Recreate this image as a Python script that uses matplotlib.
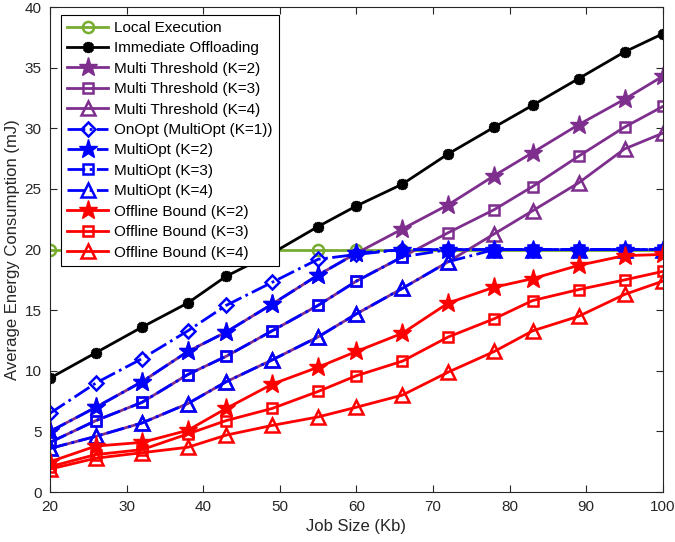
import numpy as np
import matplotlib.pyplot as plt

# job sizes (Kb)
job_size = [20, 26, 32, 38, 43, 49, 55, 60, 66, 72, 78, 83, 89, 95, 100]

local_exec = [20, 20, 20, 20, 20, 20, 20, 20, 20, 20, 20, 20, 20, 20, 20]
immediate = [9.4, 11.5, 13.6, 15.6, 17.8, 19.7, 21.9, 23.6, 25.4, 27.9, 30.1, 31.9, 34.1, 36.3, 37.8]

mt_k2 = [5.0, 7.0, 9.1, 11.6, 13.2, 15.5, 17.9, 19.7, 21.7, 23.7, 26.1, 28.0, 30.3, 32.4, 34.3]
mt_k3 = [4.1, 5.9, 7.4, 9.7, 11.2, 13.3, 15.4, 17.4, 19.4, 21.4, 23.3, 25.2, 27.7, 30.1, 31.8]
mt_k4 = [3.6, 4.6, 5.7, 7.3, 9.1, 10.9, 12.8, 14.7, 16.8, 19.0, 21.3, 23.2, 25.5, 28.3, 29.6]

onopt = [6.5, 9.0, 11.0, 13.3, 15.4, 17.3, 19.2, 19.6, 20, 20, 20, 20, 20, 20, 20]
mo_k2 = [5.0, 7.0, 9.1, 11.6, 13.2, 15.5, 17.9, 19.7, 20, 20, 20, 20, 20, 20, 20]
mo_k3 = [4.1, 5.9, 7.4, 9.7, 11.2, 13.3, 15.4, 17.4, 19.4, 20, 20, 20, 20, 20, 20]
mo_k4 = [3.6, 4.6, 5.7, 7.3, 9.1, 10.9, 12.8, 14.7, 16.8, 19.0, 20, 20, 20, 20, 20]

ob_k2 = [2.5, 3.8, 4.1, 5.1, 6.9, 8.9, 10.3, 11.6, 13.1, 15.6, 16.9, 17.6, 18.7, 19.5, 19.6]
ob_k3 = [2.1, 3.1, 3.5, 4.8, 5.9, 6.9, 8.3, 9.6, 10.8, 12.8, 14.3, 15.8, 16.7, 17.5, 18.2]
ob_k4 = [1.9, 2.8, 3.25, 3.7, 4.7, 5.5, 6.2, 7.0, 8.0, 9.9, 11.6, 13.3, 14.5, 16.3, 17.4]

plt.rcParams['font.family'] = ['Liberation Sans', 'DejaVu Sans']

green = (0.466, 0.674, 0.188)
purple = (0.494, 0.184, 0.556)
dark = (0.15, 0.15, 0.15)

fig = plt.figure(figsize=(6.75, 5.42), dpi=100)
ax = fig.add_axes([0.074, 0.092, 0.908, 0.895])

lw = 2
ax.plot(job_size, local_exec, color=green, lw=lw, marker='o', ms=8, mfc='none', mew=1.8, label='Local Execution')
ax.plot(job_size, immediate, color='k', lw=lw, marker=(8, 2, 0), ms=8, mew=2.5, label='Immediate Offloading')

ax.plot(job_size, mt_k2, color=purple, lw=lw, marker='*', ms=14, label='Multi Threshold (K=2)')
ax.plot(job_size, mt_k3, color=purple, lw=lw, marker='s', ms=7, mfc='none', mew=1.8, label='Multi Threshold (K=3)')
ax.plot(job_size, mt_k4, color=purple, lw=lw, marker='^', ms=10, mfc='none', mew=1.8, label='Multi Threshold (K=4)')

ax.plot(job_size, onopt, color='b', lw=lw, ls='-.', marker='D', ms=7, mfc='none', mew=1.8, label='OnOpt (MultiOpt (K=1))')
ax.plot(job_size, mo_k2, color='b', lw=lw, ls='-.', marker='*', ms=14, label='MultiOpt (K=2)')
ax.plot(job_size, mo_k3, color='b', lw=lw, ls='-.', marker='s', ms=7, mfc='none', mew=1.8, label='MultiOpt (K=3)')
ax.plot(job_size, mo_k4, color='b', lw=lw, ls='-.', marker='^', ms=10, mfc='none', mew=1.8, label='MultiOpt (K=4)')

ax.plot(job_size, ob_k2, color='r', lw=lw, marker='*', ms=14, label='Offline Bound (K=2)')
ax.plot(job_size, ob_k3, color='r', lw=lw, marker='s', ms=7, mfc='none', mew=1.8, label='Offline Bound (K=3)')
ax.plot(job_size, ob_k4, color='r', lw=lw, marker='^', ms=10, mfc='none', mew=1.8, label='Offline Bound (K=4)')

ax.set_xlim(20, 100)
ax.set_ylim(0, 40)
ax.set_xticks(np.arange(20, 101, 10))
ax.set_yticks(np.arange(0, 41, 5))
ax.tick_params(direction='in', top=True, right=True, labelsize=11, colors=dark, length=5, pad=6)
for s in ax.spines.values():
    s.set_color(dark)
    s.set_linewidth(0.8)

ax.set_xlabel('Job Size (Kb)', fontsize=12, color=dark, labelpad=3)
ax.set_ylabel('Average Energy Consumption (mJ)', fontsize=12, color=dark, labelpad=3)

leg = ax.legend(loc='upper left', fontsize=11, handlelength=2.7, handletextpad=0.4,
                labelspacing=0.42, fancybox=False, framealpha=1, edgecolor='k',
                borderpad=0.4, borderaxespad=0, bbox_to_anchor=(0.018, 0.984))
leg.get_frame().set_linewidth(0.8)

plt.savefig('out.png', dpi=100)
